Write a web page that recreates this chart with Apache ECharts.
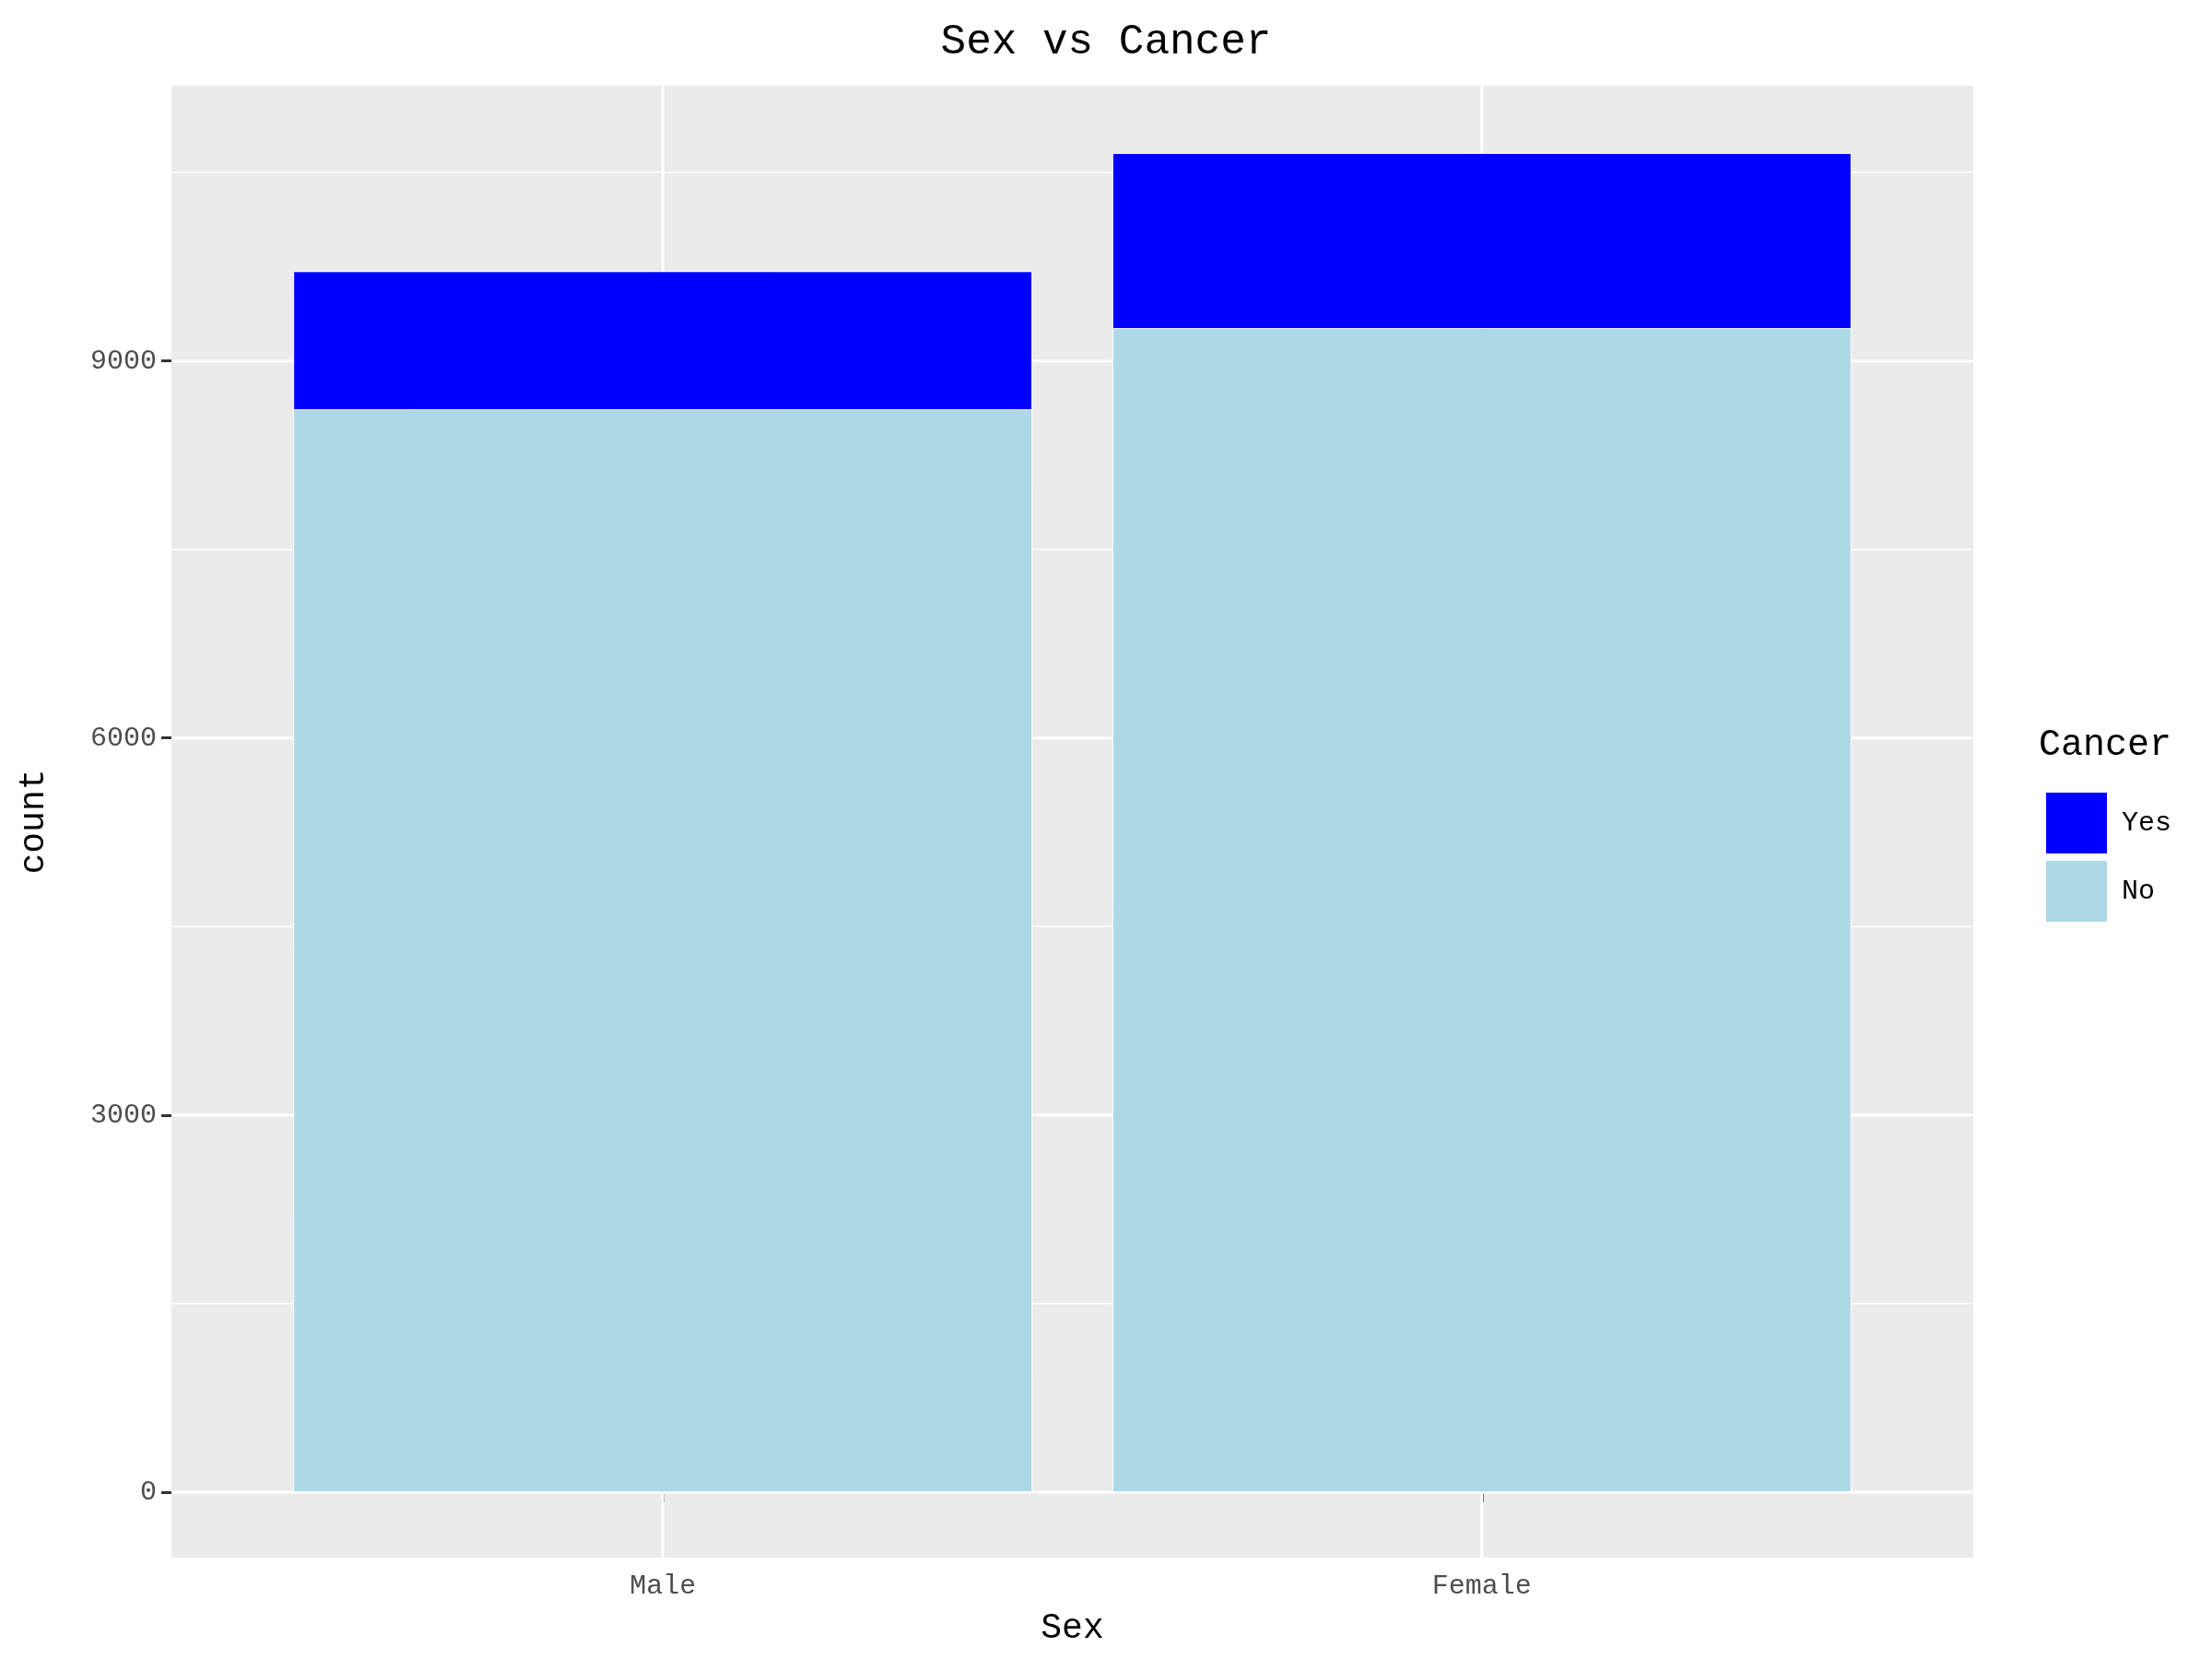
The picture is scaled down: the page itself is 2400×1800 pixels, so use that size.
<!DOCTYPE html><html><head><meta charset="utf-8">
<script src="https://cdn.jsdelivr.net/npm/echarts@6/dist/echarts.min.js"></script>
<style>html,body{margin:0}#c{width:2400px;height:1800px}</style></head><body><div id="c"></div>
<script>
const categories=['Male','Female'];
const noValues=[8615,9261];
const yesValues=[1099,1394];
const yTicks=[0,3000,6000,9000];
const majorLines=[0,3000,6000,9000];
const minorLines=[1500,4500,7500,10500];
const F='Liberation Mono';
const c=echarts.init(document.getElementById('c'));
const pos=categories.map((n,i)=>i+1);
const XMIN=0.4,XMAX=2.6,YMIN=-521,YMAX=11190;
const gl=(pts,w)=>({type:'line',data:pts,z:1,silent:true,showSymbol:false,animation:false,legendHoverLink:false,
  lineStyle:{color:'#fff',width:w},tooltip:{show:false}});
const lines=[...majorLines.map(v=>gl([[XMIN,v],[XMAX,v]],3)),...minorLines.map(v=>gl([[XMIN,v],[XMAX,v]],1.5)),
  ...pos.map(p=>gl([[p,YMIN],[p,YMAX]],3))];
c.setOption({
 backgroundColor:'#fff',
 title:{text:'Sex vs Cancer',left:'center',top:18,textStyle:{fontFamily:F,fontSize:46,fontWeight:'normal',color:'#000'}},
 grid:{left:186,right:259,top:93,bottom:110,show:true,backgroundColor:'#EBEBEB',borderWidth:0},
 legend:{orient:'vertical',left:2213,top:853,itemWidth:68,itemHeight:68,itemGap:4,icon:'rect',data:['Yes','No'],
   textStyle:{fontFamily:F,fontSize:30,color:'#000',padding:[0,0,0,10]},itemStyle:{borderColor:'#fff',borderWidth:2}},
 graphic:[{type:'text',left:2212,top:788,style:{text:'Cancer',font:'40px "Liberation Mono"',fill:'#000'}}],
 xAxis:{type:'value',min:XMIN,max:XMAX,name:'Sex',nameLocation:'middle',nameGap:58,
   nameTextStyle:{fontFamily:F,fontSize:38,color:'#000'},
   axisLine:{show:false},splitLine:{show:false},
   axisTick:{show:true,customValues:pos,length:11,lineStyle:{color:'#333',width:3}},
   axisLabel:{customValues:pos,formatter:v=>categories[Math.round(v)-1]||'',fontFamily:F,fontSize:30,color:'#4D4D4D',margin:16}},
 yAxis:{type:'value',min:YMIN,max:YMAX,name:'count',nameLocation:'middle',nameGap:130,
   nameTextStyle:{fontFamily:F,fontSize:38,color:'#000'},
   axisLine:{show:false},splitLine:{show:false},
   axisTick:{show:true,customValues:yTicks,length:11,lineStyle:{color:'#333',width:3}},
   axisLabel:{customValues:yTicks,formatter:v=>String(v),fontFamily:F,fontSize:30,color:'#4D4D4D',margin:16}},
 series:[...lines,
  {name:'Yes',type:'bar',z:3,barWidth:802,barGap:'-100%',data:yesValues.map((v,i)=>[pos[i],v+noValues[i]]),itemStyle:{color:'#0000FF',borderColor:'#fff',borderWidth:1}},
  {name:'No',type:'bar',z:4,barWidth:802,barGap:'-100%',data:noValues.map((v,i)=>[pos[i],v]),itemStyle:{color:'#ADD8E6',borderColor:'#fff',borderWidth:1}}
 ]
});
</script></body></html>
